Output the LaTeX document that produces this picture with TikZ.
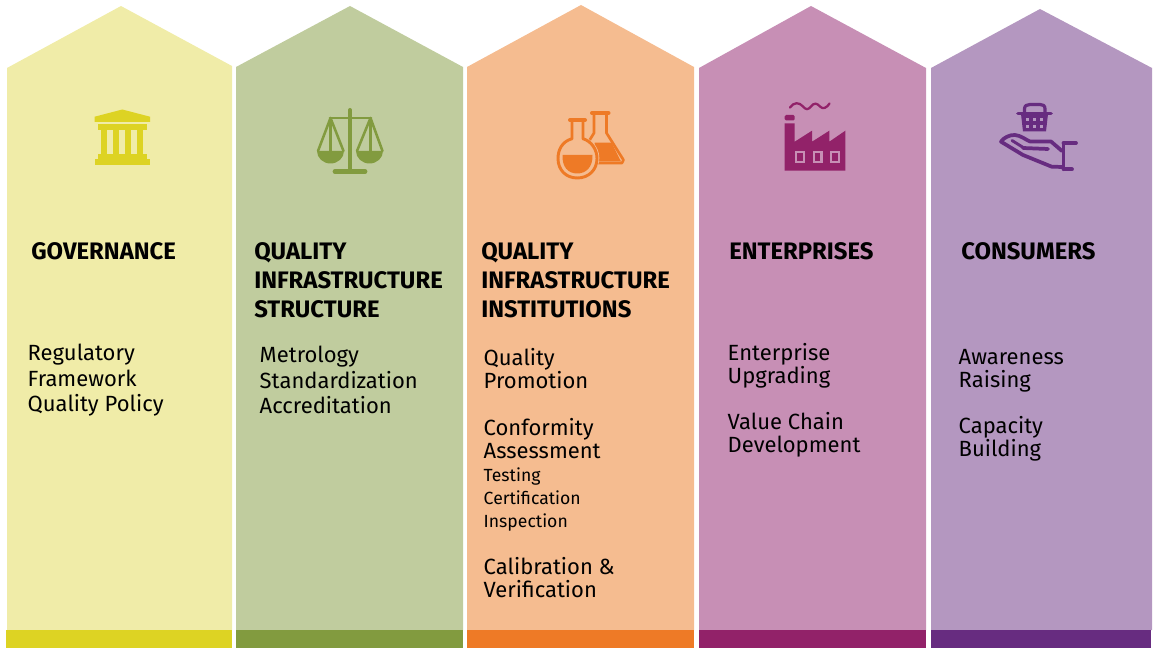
\documentclass[tikz,border=0pt]{standalone}
\usepackage{fontspec}
\setmainfont{Fira Sans}
\definecolor{yP}{HTML}{F0ECA8}\definecolor{yD}{HTML}{DDD323}
\definecolor{gP}{HTML}{C0CC9E}\definecolor{gD}{HTML}{829B3F}
\definecolor{oP}{HTML}{F5BC90}\definecolor{oD}{HTML}{EE7A26}
\definecolor{pP}{HTML}{C78FB5}\definecolor{pD}{HTML}{922269}
\definecolor{vP}{HTML}{B497C0}\definecolor{vD}{HTML}{672C80}
\tikzset{
  head/.style={anchor=base west,inner sep=0pt,yshift=-0.75pt,font=\fontsize{17.9}{17.9}\selectfont\bfseries,text=black},
  item/.style={anchor=base west,inner sep=0pt,xshift=-0.4pt,yshift=-0.4pt,font=\fontsize{16.5}{16.5}\selectfont,text=black},
  subitem/.style={anchor=base west,inner sep=0pt,xshift=-0.4pt,font=\fontsize{13.2}{13.2}\selectfont,text=black},
}
\begin{document}
\begin{tikzpicture}[x=0.75pt,y=-0.75pt]
\useasboundingbox (0,0) rectangle (1160,648);
% houses
\fill[yP] (7,68) -- (121,6) -- (232,66) -- (232,630) -- (7,630) -- cycle;
\fill[gP] (236,67) -- (350,6) -- (463,67) -- (463,630) -- (236,630) -- cycle;
\fill[oP] (467,67) -- (581,5) -- (694,67) -- (694,630) -- (467,630) -- cycle;
\fill[pP] (699,68) -- (811,6) -- (926,68) -- (926,630) -- (699,630) -- cycle;
\fill[vP] (931,68) -- (1040,9) -- (1152,68) -- (1152,630) -- (931,630) -- cycle;
% bars
\fill[yD] (6,630) rectangle (232,648);
\fill[gD] (236,630) rectangle (463,648);
\fill[oD] (467,630) rectangle (694,648);
\fill[pD] (699,630) rectangle (926,648);
\fill[vD] (931,630) rectangle (1151,648);
% bank icon
\fill[yD] (122.3,109.5) -- (150,116.7) -- (150,122) -- (94.7,122) -- (94.7,116.7) -- cycle;
\fill[yD] (98,124) rectangle (147,130);
\foreach \a in {101,113.3,125,137.3} \fill[yD] (\a,130) rectangle (\a+5.7,154);
\fill[yD] (98,154) rectangle (147,159);
\fill[yD] (94.7,159) rectangle (150,165);
% scales icon
\begin{scope}[line cap=round,line join=round]
\draw[gD,line width=3pt] (350,110) -- (350,171);
\draw[gD,line width=2pt] (330,118) -- (371,118);
\draw[gD,line width=1.9pt] (318,151) -- (330.5,118) -- (343.5,151) (330.5,118) -- (330.5,151);
\draw[gD,line width=1.9pt] (357,151) -- (370.5,118) -- (382.5,151) (370.5,118) -- (370.5,151);
\fill[gD] (317,151) arc[start angle=180,end angle=0,x radius=13.5,y radius=12.5] -- cycle;
\fill[gD] (356,151) arc[start angle=180,end angle=0,x radius=13.5,y radius=12.5] -- cycle;
\draw[gD,line width=3.6pt] (335,171.5) -- (365,171.5);
\end{scope}
% flasks icon
\begin{scope}[line join=round,line cap=round]
\fill[oD] (594.5,142.7) -- (611.5,142.7) -- (621,161.5) -- (596,161.5) -- cycle;
\draw[oD,line width=2pt] (594,114) -- (594,133) -- (586,146);
\draw[oD,line width=2pt] (606.5,114) -- (606.5,133) -- (623.5,160) -- (622,163) -- (596,163);
\draw[oD,line width=3pt] (592,113) -- (608.5,113);
\fill[oP] (577.3,158) circle[radius=22];
\draw[oD,line width=2.2pt] (572,120) -- (572,138.7) .. controls (562,141.5) and (558,150) .. (558,158.5) .. controls (558,170) and (566,178) .. (577.3,178) .. controls (588.5,178) and (597,170) .. (597,158.5) .. controls (597,150) and (592,141.5) .. (583,138.7) -- (583,120);
\draw[oD,line width=3pt] (570,120) -- (585,120);
\fill[oD] (562.5,155) -- (592.5,155) .. controls (593,167) and (586,173.5) .. (577.3,173.5) .. controls (568,173.5) and (562,167) .. (562.5,155) -- cycle;
\end{scope}
% factory icon
\fill[pD] (784.7,123.3) -- (794.7,123.3) -- (794.7,141.7) -- (812,130.7) -- (812,141.7) -- (829.3,130.7) -- (829.3,141.7) -- (845.3,130.7) -- (845.3,170.7) -- (784.7,170.7) -- cycle;
\fill[pD,rounded corners=1pt] (784.7,115) rectangle (794.7,120.5);
\foreach \a in {795,812.7,830} {
  \fill[pP] (\a,151) rectangle (\a+10,163.3);
  \fill[pD] (\a+2.4,153.4) rectangle (\a+7.6,160.9);
}
\draw[pD,line width=1.7pt,line cap=round] (790,107.5) .. controls (794,102) and (799,102) .. (803,106.5) .. controls (806,110) and (808,110) .. (811,106.5) .. controls (814,102.5) and (817,103) .. (820,106.5) .. controls (823,110) and (827,107.5) .. (829.5,103.5);
% hand and basket icon
\begin{scope}[line join=round,line cap=round]
\draw[vD,line width=2.4pt] (1024.5,113) -- (1024.5,109) .. controls (1024.5,105.5) and (1027,104.5) .. (1030,104.5) -- (1040,104.5) .. controls (1043,104.5) and (1045,105.5) .. (1045,109) -- (1045,113);
\fill[vD] (1021,114) -- (1048,114) -- (1046,131.5) -- (1023,131.5) -- cycle;
\draw[vD,line width=2.8pt] (1018,113.5) -- (1051,113.5);
\foreach \a in {1026.4,1033,1039.8}
  \foreach \b in {118,125} \fill[vP] (\a,\b) rectangle (\a+2.8,\b+3.2);
\draw[vD,line width=2.8pt] (1063.5,143) -- (1063.5,169.3) (1063.5,143) -- (1076,143) (1063.5,169.3) -- (1072,169.3);
\draw[vD,line width=2.8pt] (1063,167) -- (1051.7,166.7) -- (1023,155) -- (1001,141.7) .. controls (1003,138) and (1010,134.5) .. (1015,135) .. controls (1021,135.5) and (1026,140) .. (1030,141.5) -- (1051,141.5) -- (1062,151);
\draw[vD,line width=2.8pt] (1023,148) -- (1048,149);
\draw[vD,line width=2.2pt] (1012,140.5) -- (1024,148);
\end{scope}
% text
\node[head] (h1) at (31,259) {GOVERNANCE};
\node[head] (h2a) at (254,259) {QUALITY};
\node[head] (h2b) at (254,288) {INFRASTRUCTURE};
\node[head] (h2c) at (254,317) {STRUCTURE};
\node[head] (h3a) at (481,259) {QUALITY};
\node[head] (h3b) at (481,288) {INFRASTRUCTURE};
\node[head] (h3c) at (481,317) {INSTITUTIONS};
\node[head] (h4) at (729,259) {ENTERPRISES};
\node[head] (h5) at (961,259) {CONSUMERS};
\node[item] (a1) at (28,360) {Regulatory};
\node[item] (a2) at (28,386) {Framework};
\node[item] (a3) at (28,411) {Quality Policy};
\node[item] (b1) at (260,362) {Metrology};
\node[item] (b2) at (260,388) {Standardization};
\node[item] (b3) at (260,413) {Accreditation};
\node[item] (c1) at (484,365) {Quality};
\node[item] (c2) at (484,388) {Promotion};
\node[item] (c3) at (484,435) {Conformity};
\node[item] (c4) at (484,458) {Assessment};
\node[subitem] (c5) at (484,481) {Testing};
\node[subitem] (c6) at (484,504) {Certification};
\node[subitem] (c7) at (484,527) {Inspection};
\node[item] (c8) at (484,574) {Calibration \&};
\node[item] (c9) at (484,597) {Verification};
\node[item] (d1) at (728,360) {Enterprise};
\node[item] (d2) at (728,383) {Upgrading};
\node[item] (d3) at (728,429) {Value Chain};
\node[item] (d4) at (728,452) {Development};
\node[item] (e1) at (959,364) {Awareness};
\node[item] (e2) at (959,387) {Raising};
\node[item] (e3) at (959,433) {Capacity};
\node[item] (e4) at (959,456) {Building};
\end{tikzpicture}
\end{document}
